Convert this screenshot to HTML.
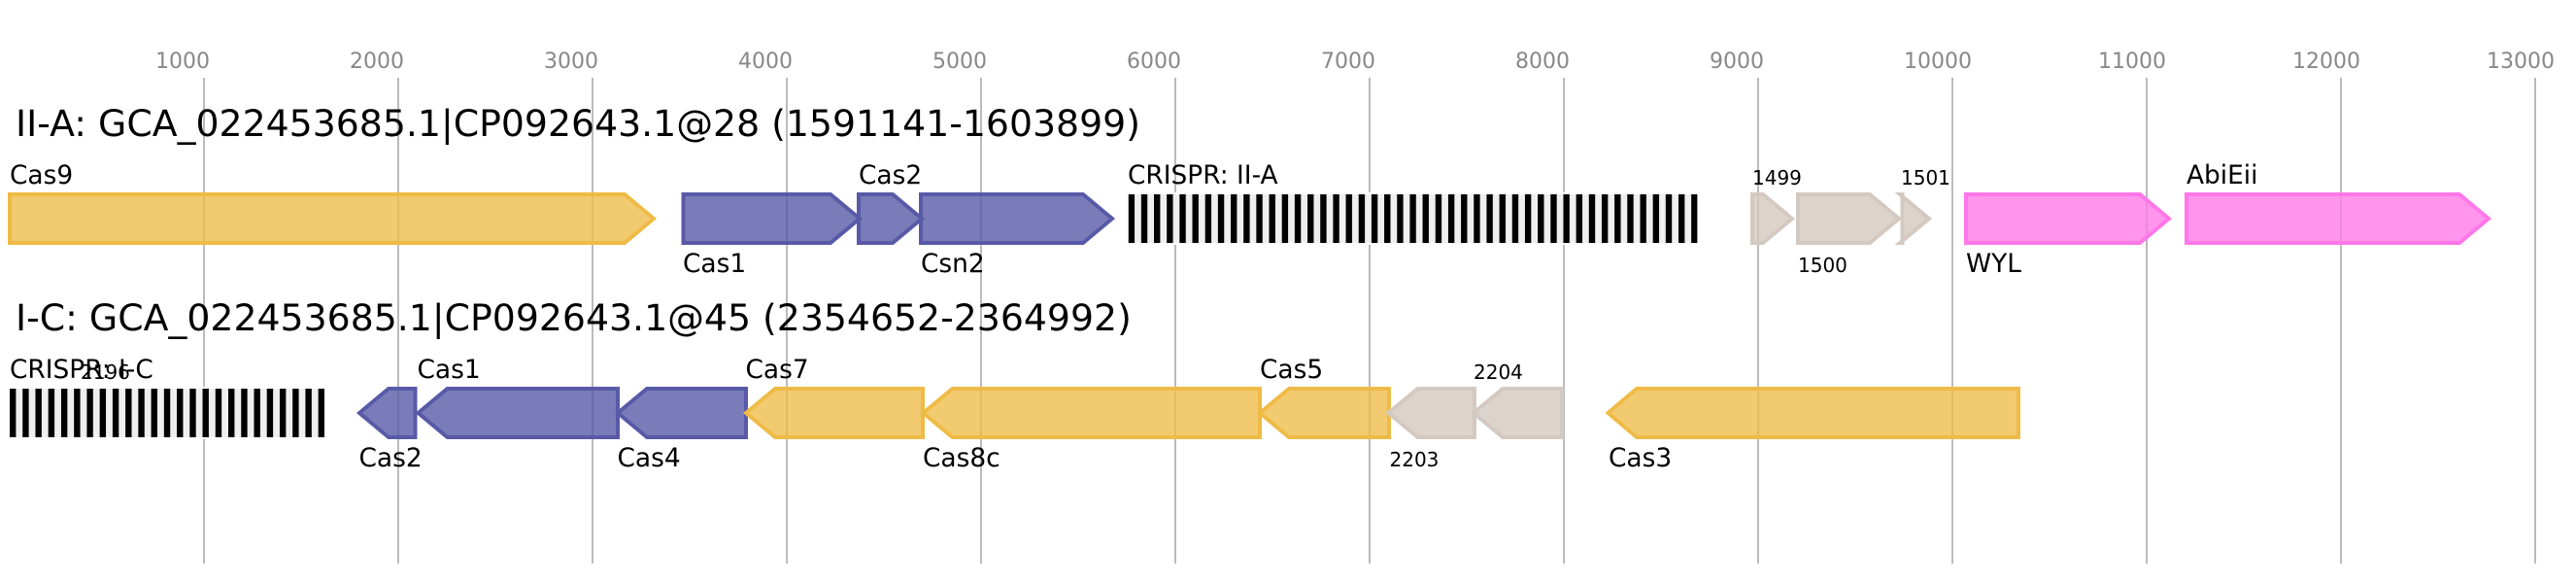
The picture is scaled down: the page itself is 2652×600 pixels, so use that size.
<!DOCTYPE html>
<html><head><meta charset="utf-8"><style>
html,body{margin:0;padding:0;background:#fff}
svg{display:block}
text{font-family:"DejaVu Sans",sans-serif;fill:#000}
.t{font-size:37.8px}.l{font-size:26.4px}.s{font-size:20px}
.k{font-size:22px;fill:#888}
.g{stroke:#bbb;stroke-width:2}
polygon{stroke-width:4;fill-opacity:.78;stroke-miterlimit:10}
.y{fill:#eebb46;stroke:#eebb46}
.b{fill:#5557a6;stroke:#585aa8}
.p{fill:#ff77e8;stroke:#ff77e8}
.n{fill:#d2c6be;stroke:#d4c9c1}
</style></head><body>
<svg xmlns="http://www.w3.org/2000/svg" width="2652" height="600" viewBox="0 0 2652 600">
<defs>
<pattern id="c1" patternUnits="userSpaceOnUse" x="1161.67" y="200" width="13.17" height="50"><rect x="0" y="0" width="6.4" height="50" fill="#000"/></pattern>
<pattern id="c2" patternUnits="userSpaceOnUse" x="10" y="400" width="13.236" height="50"><rect x="0" y="0" width="6.4" height="50" fill="#000"/></pattern>
</defs>
<rect width="2652" height="600" fill="#fff"/>
<g>
<line class="g" x1="210" y1="80" x2="210" y2="580"/><line class="g" x1="410" y1="80" x2="410" y2="580"/><line class="g" x1="610" y1="80" x2="610" y2="580"/><line class="g" x1="810" y1="80" x2="810" y2="580"/><line class="g" x1="1010" y1="80" x2="1010" y2="580"/><line class="g" x1="1210" y1="80" x2="1210" y2="580"/><line class="g" x1="1410" y1="80" x2="1410" y2="580"/><line class="g" x1="1610" y1="80" x2="1610" y2="580"/><line class="g" x1="1810" y1="80" x2="1810" y2="580"/><line class="g" x1="2010" y1="80" x2="2010" y2="580"/><line class="g" x1="2210" y1="80" x2="2210" y2="580"/><line class="g" x1="2410" y1="80" x2="2410" y2="580"/><line class="g" x1="2610" y1="80" x2="2610" y2="580"/>
</g>
<g class="ticks">
<text class="k" x="160" y="70">1000</text><text class="k" x="360" y="70">2000</text><text class="k" x="560" y="70">3000</text><text class="k" x="760" y="70">4000</text><text class="k" x="960" y="70">5000</text><text class="k" x="1160" y="70">6000</text><text class="k" x="1360" y="70">7000</text><text class="k" x="1560" y="70">8000</text><text class="k" x="1760" y="70">9000</text><text class="k" x="1960" y="70">10000</text><text class="k" x="2160" y="70">11000</text><text class="k" x="2360" y="70">12000</text><text class="k" x="2560" y="70">13000</text>
</g>

<text class="t" x="16" y="140">II-A: GCA_022453685.1|CP092643.1@28 (1591141-1603899)</text>
<polygon class="y" points="10,200 643,200 673,225 643,250 10,250"/>
<polygon class="b" points="703.5,200 855,200 885,225 855,250 703.5,250"/>
<polygon class="b" points="884,200 919,200 949,225 919,250 884,250"/>
<polygon class="b" points="948,200 1115,200 1145,225 1115,250 948,250"/>
<rect x="1159" y="198" width="590" height="54" fill="#fff"/>
<rect x="1161.67" y="200" width="585.7" height="50" fill="#efefef"/>
<rect x="1161.67" y="200" width="585.7" height="50" fill="url(#c1)"/>
<polygon class="n" points="1804,200 1815,200 1845,225 1815,250 1804,250"/>
<polygon class="n" points="1851,200 1925,200 1955,225 1925,250 1851,250"/>
<polygon class="n" points="1958.5,200 1956,200 1986,225 1956,250 1958.5,250"/>
<polygon class="p" points="2024,200 2203,200 2233,225 2203,250 2024,250"/>
<polygon class="p" points="2251,200 2532,200 2562,225 2532,250 2251,250"/>
<text class="l" x="10" y="189">Cas9</text>
<text class="l" x="703" y="280">Cas1</text>
<text class="l" x="884" y="189">Cas2</text>
<text class="l" x="948" y="280">Csn2</text>
<text class="l" x="1161" y="189">CRISPR: II-A</text>
<text class="s" x="1804" y="190">1499</text>
<text class="s" x="1851" y="280">1500</text>
<text class="s" x="1957" y="190">1501</text>
<text class="l" x="2024" y="280">WYL</text>
<text class="l" x="2251" y="189">AbiEii</text>

<text class="t" x="16" y="340">I-C: GCA_022453685.1|CP092643.1@45 (2354652-2364992)</text>
<rect x="8" y="398" width="328" height="54" fill="#fff"/>
<rect x="10" y="400" width="324" height="50" fill="#efefef"/>
<rect x="10" y="400" width="324" height="50" fill="url(#c2)"/>
<polygon class="b" points="370,425 400,400 427.5,400 427.5,450 400,450"/>
<polygon class="b" points="430.5,425 460.5,400 636,400 636,450 460.5,450"/>
<polygon class="b" points="636,425 666,400 768,400 768,450 666,450"/>
<polygon class="y" points="768,425 798,400 950,400 950,450 798,450"/>
<polygon class="y" points="950.5,425 980.5,400 1297,400 1297,450 980.5,450"/>
<polygon class="y" points="1297,425 1327,400 1430,400 1430,450 1327,450"/>
<polygon class="n" points="1429.5,425 1459.5,400 1518,400 1518,450 1459.5,450"/>
<polygon class="n" points="1517,425 1547,400 1608,400 1608,450 1547,450"/>
<polygon class="y" points="1655.5,425 1685,400 2078,400 2078,450 1685,450"/>
<text class="l" x="10" y="389">CRISPR: I-C</text>
<text class="s" x="83" y="390">2196</text>
<text class="l" x="369.5" y="480">Cas2</text>
<text class="l" x="429.5" y="389">Cas1</text>
<text class="l" x="635.5" y="480">Cas4</text>
<text class="l" x="767.5" y="389">Cas7</text>
<text class="l" x="950" y="480">Cas8c</text>
<text class="l" x="1297" y="389">Cas5</text>
<text class="s" x="1430.5" y="480">2203</text>
<text class="s" x="1517" y="390">2204</text>
<text class="l" x="1656" y="480">Cas3</text>
</svg>
</body></html>
